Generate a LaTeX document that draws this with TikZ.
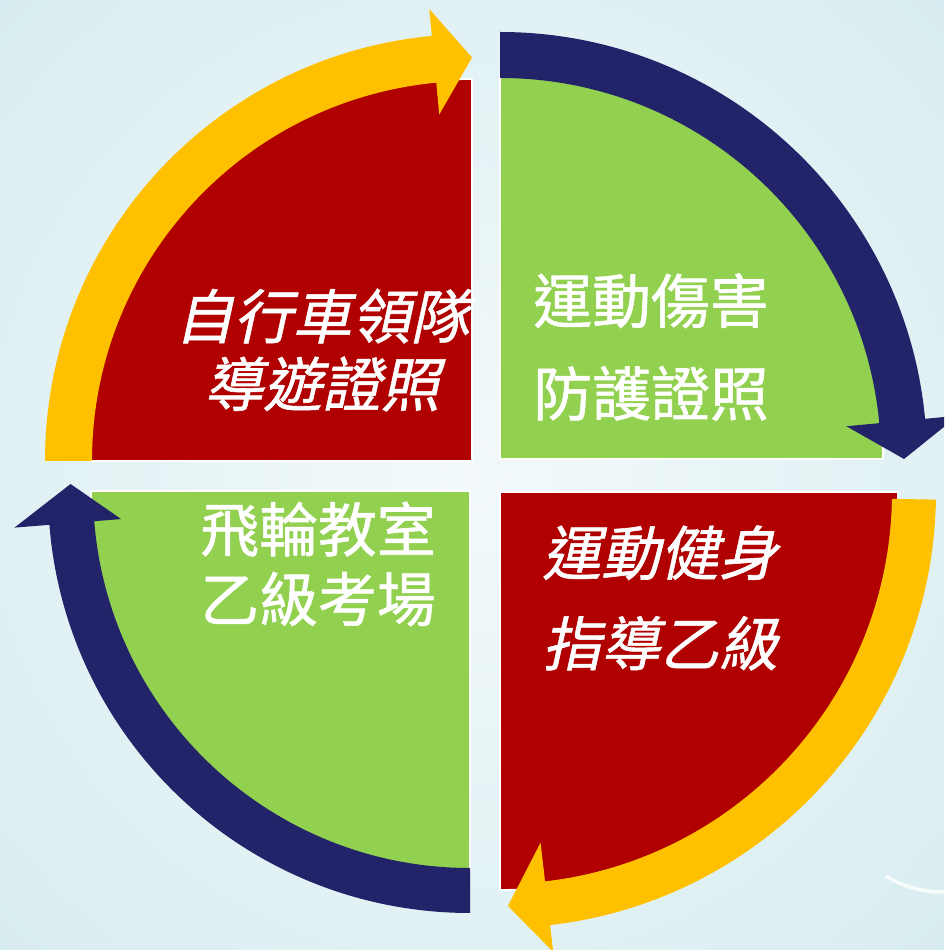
\documentclass[tikz,border=0pt]{standalone}
\usepackage{fontspec}
\newfontfamily\cjk{Noto Sans CJK TC}[AutoFakeSlant=0.22, AutoFakeBold=1.0]
\usetikzlibrary{calc}
\definecolor{bgColor}{HTML}{D6ECF0}
\definecolor{bgLight}{HTML}{F3F9FA}
\definecolor{redColor}{HTML}{B00000}
\definecolor{greenColor}{HTML}{92D050}
\definecolor{navyColor}{HTML}{232369}
\definecolor{goldColor}{HTML}{FFC000}

\begin{document}
\begin{tikzpicture}[x=0.02cm, y=0.02cm,
	labelText/.style={text=white, align=center, inner sep=0pt, font=\cjk\bfseries\fontsize{33.5}{#1}\selectfont},
	labelItalic/.style={text=white, align=center, inner sep=0pt, font=\cjk\bfseries\itshape\fontsize{33.5}{#1}\selectfont}]
		
		% --- 1. Background ---
		\useasboundingbox (0,0) rectangle (944,950);
		\clip (0,0) rectangle (944,950);
		\shade[inner color=bgLight, outer color=bgColor] (-250,-250) rectangle (1194,1200);
		\draw[white, line width=2pt, opacity=0.8] (886,74) .. controls (905,62) and (925,58) .. (944,58);
		
		% --- 2. Quarter discs ---
		% corner x / corner y / first angle / radius / colour
		% (top left, top right, bottom left, bottom right)
		\foreach \cx/\cy/\a/\r/\col in {
			472/489/90/382/redColor,
			500/491/0/383/greenColor,
			470/459/180/379/greenColor,
			500/458/270/398/redColor%
		} {
			\fill[\col, draw=white, line width=1pt] (\cx,\cy) -- ++(\a:\r) arc[start angle=\a, end angle=\a+90, radius=\r] -- cycle;
		}
		
		% --- 3. Curved arrows (clockwise) ---
		% corner / start / head base / tip / band in, out / head in, out / colour
		\foreach \cx/\cy/\s/\b/\t/\ri/\ro/\hi/\ho/\col in {
			472/489/180/95.4/90/380/427/348/454/goldColor,
			500/491/90/5.4/0/381/427/348/460/navyColor,
			500/458/-1/-83.4/-88.9/392/436/353/463/goldColor,
			470/459/270/184.6/179/377/422/350/457/navyColor%
		} {
			\fill[\col] ($(\cx,\cy)+(\s:\ro)$) arc[start angle=\s, end angle=\b, radius=\ro]
				-- ($(\cx,\cy)+(\b:\ho)$) -- ($(\cx,\cy)+(\t:{(\ri+\ro)/2})$) -- ($(\cx,\cy)+(\b:\hi)$)
				-- ($(\cx,\cy)+(\b:\ri)$) arc[start angle=\b, end angle=\s, radius=\ri] -- cycle;
		}
		
		% --- 4. Labels ---
		\node[labelItalic=38.6pt] (bikeText) at (322,600) {自行車領隊\\導遊證照};
		\node[labelText=52.7pt] (injuryText) at (651,603) {運動傷害\\防護證照};
		\node[labelText=39.7pt] (spinText) at (318,386) {飛輪教室\\乙級考場};
		\node[labelItalic=51.6pt] (fitnessText) at (660,352) {運動健身\\指導乙級};
		
	\end{tikzpicture}
\end{document}
